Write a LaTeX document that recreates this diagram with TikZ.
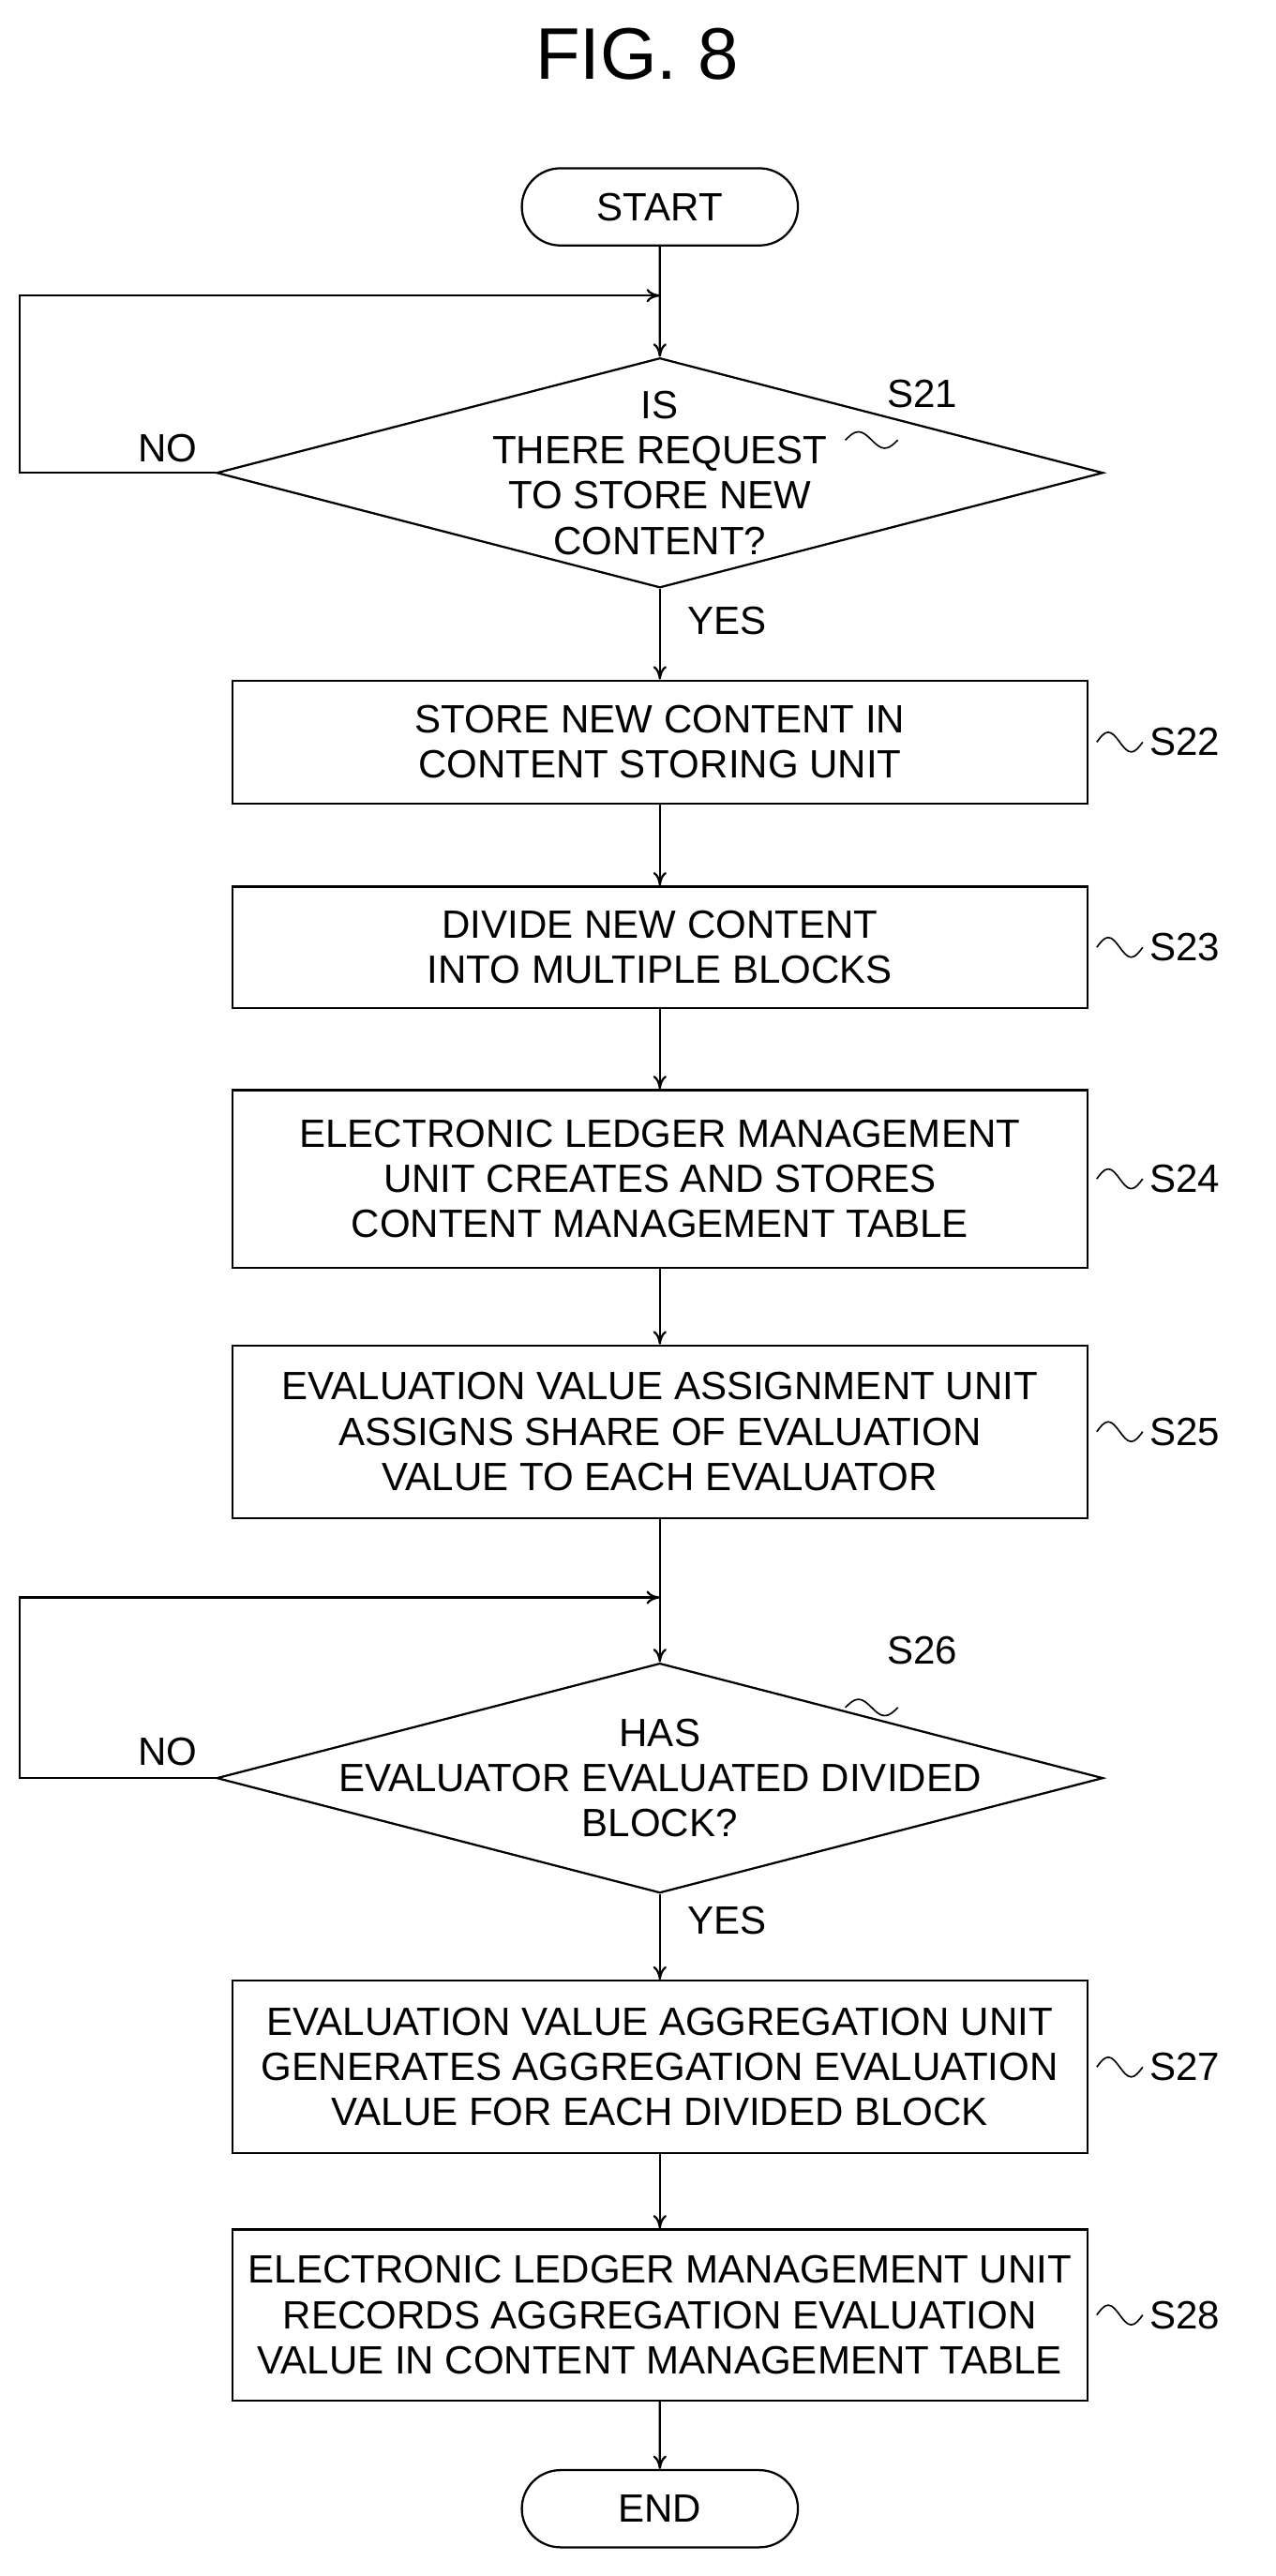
\documentclass[tikz,border=0pt]{standalone}
\usepackage{fontspec}
\setmainfont{Liberation Sans}
\usetikzlibrary{shapes.geometric, shapes.misc, arrows.meta, positioning}

\begin{document}
\begin{tikzpicture}[x=0.03cm, y=-0.03cm, line width=1.1pt,
    >={To[length=7pt,width=7pt]},
    txt/.style={font=\fontsize{20.5}{23.5}\selectfont},
    proc/.style={draw, rectangle, txt, align=center, minimum width=15.63cm},
    term/.style={draw, rounded rectangle, txt, minimum width=5.28cm, minimum height=1.41cm},
    decide/.style={draw, diamond, minimum width=16.2cm, minimum height=4.2cm, inner sep=0pt},
    tag/.style={txt, anchor=west}]
    \useasboundingbox (0,0) rectangle (777,1569);

    % Title
    \node[font=\fontsize{38}{40}\selectfont] (title) at (388,33) {FIG. 8};

    % Flow
    \node[term] (start) at (402,126) {START};
    \node[decide, label={[txt, align=center]center:IS\\THERE REQUEST\\TO STORE NEW\\CONTENT?}] (s21) at (402,288) {};
    \node[proc, minimum height=2.25cm] (s22) at (402,452) {STORE NEW CONTENT IN\\CONTENT STORING UNIT};
    \node[proc, minimum height=2.22cm] (s23) at (402,577) {DIVIDE NEW CONTENT\\INTO MULTIPLE BLOCKS};
    \node[proc, minimum height=3.24cm] (s24) at (402,718) {ELECTRONIC LEDGER MANAGEMENT\\UNIT CREATES AND STORES\\CONTENT MANAGEMENT TABLE};
    \node[proc, minimum height=3.15cm] (s25) at (402,872) {EVALUATION VALUE ASSIGNMENT UNIT\\ASSIGNS SHARE OF EVALUATION\\VALUE TO EACH EVALUATOR};
    \node[decide, label={[txt, align=center]center:HAS\\EVALUATOR EVALUATED DIVIDED\\BLOCK?}] (s26) at (402,1083) {};
    \node[proc, minimum height=3.15cm] (s27) at (402,1259) {EVALUATION VALUE AGGREGATION UNIT\\GENERATES AGGREGATION EVALUATION\\VALUE FOR EACH DIVIDED BLOCK};
    \node[proc, minimum height=3.12cm] (s28) at (402,1410) {ELECTRONIC LEDGER MANAGEMENT UNIT\\RECORDS AGGREGATION EVALUATION\\VALUE IN CONTENT MANAGEMENT TABLE};
    \node[term] (end) at (402,1528) {END};

    \coordinate (j1) at (402,180);
    \coordinate (j2) at (402,973);

    % Connectors
    \draw[->] (start) -- (s21);
    \draw[->] (s21) -- (s22);
    \draw[->] (s22) -- (s23);
    \draw[->] (s23) -- (s24);
    \draw[->] (s24) -- (s25);
    \draw[->] (s25) -- (s26);
    \draw[->] (s26) -- (s27);
    \draw[->] (s27) -- (s28);
    \draw[->] (s28) -- (end);

    % NO loops
    \draw[->] (s21.west) -- (12,288) |- (j1);
    \draw[->] (s26.west) -- (12,1083) |- (j2);
    \node[txt] (no1) at (102,273) {NO};
    \node[txt] (no2) at (102,1067) {NO};
    \node[txt] (yes1) at (443,378) {YES};
    \node[txt] (yes2) at (443,1170) {YES};

    % Step tags
    \foreach \s in {22,...,25,27,28} {
        \draw[line width=0.8pt] (s\s.east) ++(5,0) sin ++(7,-6) cos ++(7,6) sin ++(7,6) cos ++(7,-6)
            node[tag] (t\s) {S\s};
    }
    \draw[line width=0.8pt] (515,268) sin ++(8,-5) cos ++(8,5) sin ++(8,5) cos ++(8,-5) coordinate (c21);
    \node[txt] (t21) at (562,240) {S21};
    \draw[line width=0.8pt] (515,1040) sin ++(8,-5) cos ++(8,5) sin ++(8,5) cos ++(8,-5) coordinate (c26);
    \node[txt] (t26) at (562,1005) {S26};
\end{tikzpicture}
\end{document}
